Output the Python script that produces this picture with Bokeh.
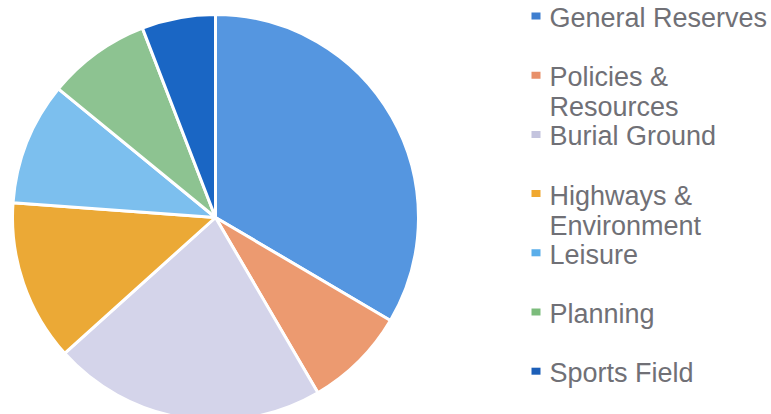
import math
from bokeh.plotting import figure
from bokeh.models import Range1d, ColumnDataSource
from bokeh.embed import file_html
from bokeh.resources import INLINE
from bokeh.core.properties import value

# Data (slice sizes in degrees)
categories = ["General Reserves", "Policies & Resources", "Burial Ground",
              "Highways & Environment", "Leisure", "Planning", "Sports Field"]
legend_lines = [["General Reserves"], ["Policies &", "Resources"], ["Burial Ground"],
                ["Highways &", "Environment"], ["Leisure"], ["Planning"], ["Sports Field"]]
values = [120.5, 29.2, 78.3, 46.2, 35.1, 29.6, 21.1]
slice_colors = ["#5596e0", "#ec9a70", "#d4d4ea", "#eba936", "#7cbfee", "#8dc391", "#1a66c4"]
marker_colors = ["#3f7fd0", "#e8906a", "#c4c4de", "#f0a830", "#5aaeea", "#7cbc7c", "#1c5fb8"]

W, H = 771, 414
p = figure(width=W, height=H, output_backend="svg", toolbar_location=None,
           x_range=Range1d(0, W), y_range=Range1d(0, H), min_border=0)
p.axis.visible = False
p.grid.visible = False
p.outline_line_color = None
p.background_fill_color = "white"

total = sum(values)
starts, ends = [], []
acc = 0.0
for v in values:
    a0 = math.pi / 2 - 2 * math.pi * acc / total
    acc += v
    a1 = math.pi / 2 - 2 * math.pi * acc / total
    starts.append(a0)
    ends.append(a1)

cx, cy, r = 215, H - 217, 203
src = ColumnDataSource(dict(start=starts, end=ends, color=slice_colors))
p.wedge(x=cx, y=cy, radius=r, start_angle="start", end_angle="end", direction="clock",
        fill_color="color", line_color="white", line_width=3, source=src)

# legend
tx, mx = 549, 535.5
t0, m0, step, lh = 17.5, 15.5, 59.2, 30
tx_list, ty_list, tt = [], [], []
mxs, mys = [], []
for i, lines in enumerate(legend_lines):
    mxs.append(mx)
    mys.append(H - (m0 + i * step))
    for j, t in enumerate(lines):
        tx_list.append(tx)
        ty_list.append(H - (t0 + i * step + j * lh))
        tt.append(t)

p.rect(x=mxs, y=mys, width=9, height=7, fill_color=marker_colors, line_color=None)
p.text(x=tx_list, y=ty_list, text=tt, text_font=value("Liberation Sans"),
       text_font_size="27px", text_color="#707076", text_baseline="middle",
       text_align="left")

open("out.html", "w").write(file_html(p, INLINE))
